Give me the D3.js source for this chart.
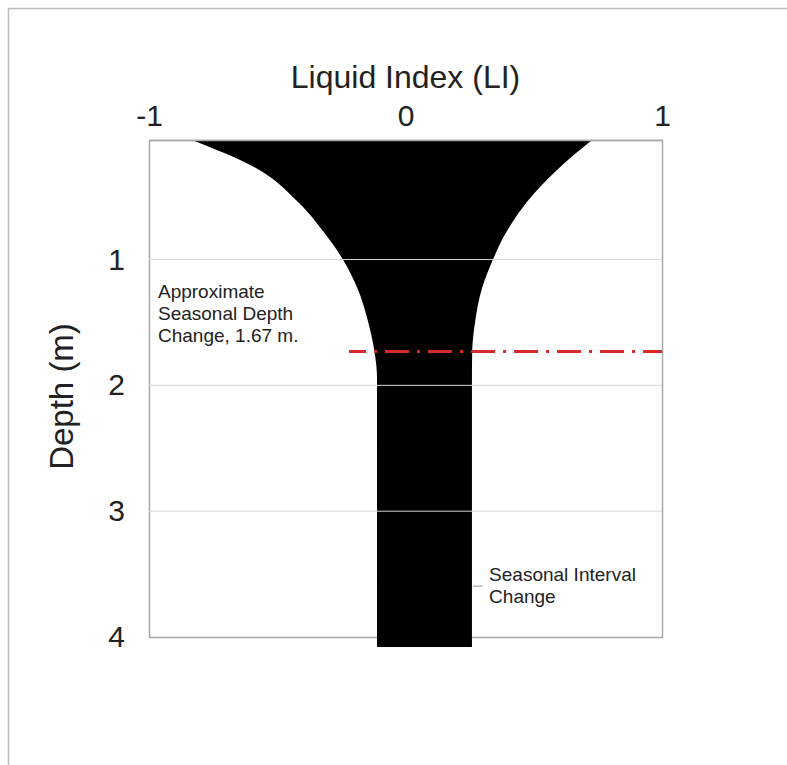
<!DOCTYPE html>
<html>
<head>
<meta charset="utf-8">
<script src="https://cdn.jsdelivr.net/npm/d3@7"></script>
<style>
  html, body { margin: 0; padding: 0; background: #fff; }
  text { font-family: "Liberation Sans", Arial, sans-serif; fill: #222; }
</style>
</head>
<body>
<script>
// depth (m) of each sampled point of the profile, and the liquid index on both edges
const depths  = [0.05, 0.27, 0.54, 0.80, 1.00, 1.23, 1.50, 1.73, 1.94, 4.08];
const liLeft  = [-0.832, -0.585, -0.420, -0.312, -0.244, -0.187, -0.145, -0.121, -0.111, -0.111];
const liRight = [0.727, 0.600, 0.474, 0.388, 0.341, 0.298, 0.271, 0.260, 0.259, 0.259];

const xTicks = [-1, 0, 1];
const yTicks = [1, 2, 3, 4];
const gridDepths = [1, 2, 3];
const seasonalDepth = 1.73;

(function() {
  var w = 787;
  var h = 765;
  var left = 149, right = 662, top = 140, bottom = 637;

  var svg = d3.select('body').append('svg')
    .attr('width', w)
    .attr('height', h);

  // outer frame of the figure
  svg.append('path')
    .attr('d', 'M8.5,765 V8.5 H787')
    .attr('fill', 'none')
    .attr('stroke', '#bdbdbd')
    .attr('stroke-width', 1.5);

  var xScale = d3.scaleLinear().domain([-1, 1]).range([left, right]);
  var yScale = d3.scaleLinear().domain([0.05, 4]).range([top, bottom]);

  var profile = depths.map((d, i) => ({ depth: d, lo: liLeft[i], hi: liRight[i] }));

  // plot frame (under the fill)
  svg.append('rect')
    .attr('x', left + 0.5)
    .attr('y', top + 0.5)
    .attr('width', right - left)
    .attr('height', bottom - top)
    .attr('fill', 'none')
    .attr('stroke', '#a8a8a8')
    .attr('stroke-width', 1.5);

  var area = d3.area()
    .y(d => yScale(d.depth))
    .x0(d => xScale(d.lo))
    .x1(d => xScale(d.hi))
    .curve(d3.curveMonotoneY);

  svg.append('path')
    .datum(profile)
    .attr('d', area)
    .attr('fill', '#000');

  // grid lines drawn over the fill
  svg.selectAll('line.grid')
    .data(gridDepths)
    .enter()
    .append('line')
    .attr('class', 'grid')
    .attr('x1', left)
    .attr('x2', right)
    .attr('y1', d => yScale(d))
    .attr('y2', d => yScale(d))
    .attr('stroke', '#d8d8d8')
    .attr('stroke-width', 1);

  // top border line over the fill
  svg.append('line')
    .attr('x1', left).attr('x2', right + 1)
    .attr('y1', top + 0.5).attr('y2', top + 0.5)
    .attr('stroke', '#a8a8a8')
    .attr('stroke-width', 1.5);

  // seasonal depth line
  svg.append('line')
    .attr('x1', xScale(-0.22))
    .attr('x2', xScale(1))
    .attr('y1', yScale(seasonalDepth))
    .attr('y2', yScale(seasonalDepth))
    .attr('stroke', '#d42a2a')
    .attr('stroke-width', 3)
    .attr('stroke-dasharray', '24,8,3,8')
    .attr('stroke-dashoffset', 7);

  // axes
  var xAxis = d3.axisTop(xScale)
    .tickValues(xTicks)
    .tickSize(0)
    .tickPadding(14)
    .tickFormat(d => String(d));

  svg.append('g')
    .attr('transform', `translate(0,${top})`)
    .call(xAxis)
    .call(g => g.select('.domain').remove())
    .selectAll('text')
    .attr('font-size', '30px')
    .attr('font-family', '"Liberation Sans", Arial, sans-serif')
    .attr('fill', '#222');

  var yAxis = d3.axisLeft(yScale)
    .tickValues(yTicks)
    .tickSize(0)
    .tickPadding(24)
    .tickFormat(d => String(d));

  svg.append('g')
    .attr('transform', `translate(${left},0)`)
    .call(yAxis)
    .call(g => g.select('.domain').remove())
    .selectAll('text')
    .attr('font-size', '30px')
    .attr('font-family', '"Liberation Sans", Arial, sans-serif')
    .attr('fill', '#222');

  // axis titles
  svg.append('text')
    .attr('x', xScale(0))
    .attr('y', 88)
    .attr('text-anchor', 'middle')
    .attr('font-size', '32px')
    .text('Liquid Index (LI)');

  svg.append('text')
    .attr('transform', `translate(73,${(top + bottom) / 2 + 8}) rotate(-90)`)
    .attr('text-anchor', 'middle')
    .attr('font-size', '33px')
    .text('Depth (m)');

  // annotations
  var note1 = ['Approximate', 'Seasonal Depth', 'Change, 1.67 m.'];
  svg.append('g')
    .selectAll('text')
    .data(note1)
    .enter()
    .append('text')
    .attr('x', xScale(-0.965))
    .attr('y', (d, i) => yScale(1.306) + i * 22)
    .attr('font-size', '19px')
    .text(d => d);

  var note2 = ['Seasonal Interval', 'Change'];
  svg.append('g')
    .selectAll('text')
    .data(note2)
    .enter()
    .append('text')
    .attr('x', xScale(0.326))
    .attr('y', (d, i) => yScale(3.556) + i * 22)
    .attr('font-size', '19px')
    .text(d => d);

  svg.append('line')
    .attr('x1', xScale(0.263))
    .attr('x2', xScale(0.302))
    .attr('y1', yScale(3.596))
    .attr('y2', yScale(3.596))
    .attr('stroke', '#999')
    .attr('stroke-width', 1);
})();
</script>
</body>
</html>
